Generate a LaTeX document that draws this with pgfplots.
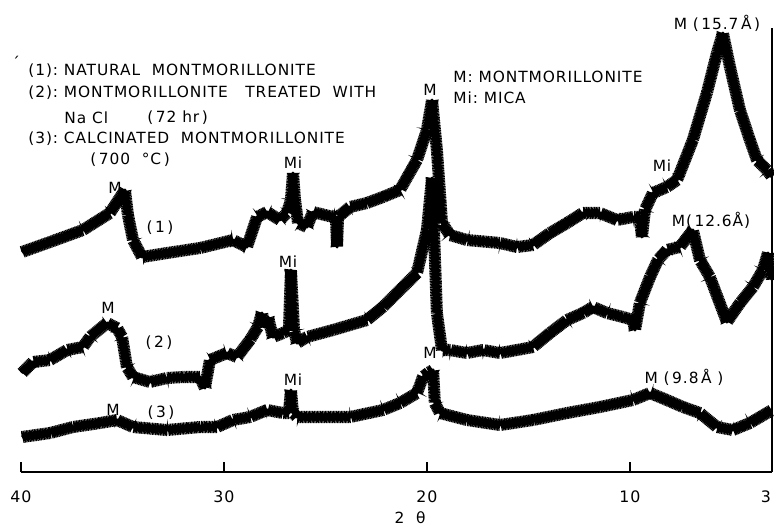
\documentclass[border=0pt]{standalone}
\usepackage{fontspec}
\setmainfont[LetterSpace=6]{DejaVu Sans}
\usepackage{pgfplots}
\pgfplotsset{compat=1.18}
\usetikzlibrary{decorations.pathmorphing}

\pgfplotstableread{
x y
39.95 220
38.57 230
36.95 242
35.62 259
34.88 282
34.73 257
34.48 232
34.04 215
32.81 219
31.18 224
29.56 232
28.87 225
28.37 255
27.88 260
27.24 252
26.90 259
26.70 272
26.60 299
26.50 272
26.35 249
25.91 245
25.62 260
24.63 255
24.48 255
24.43 225
24.38 255
23.79 265
22.96 269
22.17 275
21.33 282
20.49 312
20.00 342
19.75 372
19.51 322
19.36 279
19.26 249
18.87 237
18.03 232
16.40 229
15.57 225
14.78 227
13.94 239
13.10 249
12.32 259
11.48 259
10.64 252
9.85 255
9.51 255
9.41 235
9.26 262
8.87 279
8.18 285
7.68 292
7.54 299
6.90 332
6.21 379
5.71 419
5.42 439
5.07 405
4.58 362
4.09 332
3.74 312
3.25 302
3.00 295
}\curveone

\pgfplotstableread{
x y
39.95 99
39.41 110
38.57 112
37.73 122
36.95 125
36.60 135
35.76 149
35.27 144
35.02 135
34.78 105
34.48 95
33.65 90
32.81 94
32.02 95
31.18 95
30.94 84
30.69 112
29.85 119
29.36 115
28.72 132
28.33 145
28.13 159
27.98 145
27.83 155
27.59 135
27.09 139
26.80 142
26.70 202
26.55 142
26.40 129
25.91 135
24.63 142
22.96 152
22.17 165
21.33 182
20.49 199
20.00 242
19.75 294
19.51 159
19.26 122
18.87 122
18.03 119
17.24 122
16.40 119
15.57 122
14.78 125
13.94 139
13.10 152
12.32 159
11.82 165
11.13 159
10.34 155
9.85 152
9.75 142
9.51 169
9.01 195
8.62 212
8.18 222
7.54 225
6.90 242
6.55 212
6.06 195
5.22 150
4.58 169
3.94 185
3.45 202
3.20 219
3.00 192
}\curvetwo

\pgfplotstableread{
x y
39.95 35
38.57 39
37.44 45
36.11 49
35.27 52
34.48 45
32.81 42
31.18 45
30.34 45
29.56 52
28.72 55
27.88 62
27.09 59
26.80 59
26.70 82
26.60 59
26.40 55
25.42 55
23.79 55
22.17 62
21.33 69
20.49 79
20.20 95
19.95 99
19.70 102
19.61 69
19.36 59
18.03 52
16.40 47
14.78 52
13.10 59
11.48 65
9.85 72
9.01 79
8.18 72
7.39 65
6.55 59
5.71 45
4.93 42
4.09 49
3.25 59
3.00 62
}\curvethree

\tikzset{noisy/.style={black, line width=1.5pt, line join=round,
     postaction={draw, black, line width=0.5pt, line join=miter, decorate,
       decoration={zigzag, segment length=0.8pt, amplitude=3pt}}}}

\begin{document}
\begin{tikzpicture}
\useasboundingbox (-10.5pt,-27.5pt) rectangle (376.5pt,236pt);
\begin{axis}[
  scale only axis, width=375.5pt, height=222pt,
  xmin=3, xmax=40, ymin=0, ymax=444, x dir=reverse,
  axis x line*=bottom, axis y line*=right,
  ytick=\empty, xtick={10,20,30,40},
  extra x ticks={3},
  extra x tick style={xticklabel style={xshift=-3pt}},
  tick align=inside, major tick length=5pt,
  axis line style={line width=1.2pt},
  x tick style={line width=0.8pt, black},
  xticklabel style={font=\fontsize{7.9}{9}\selectfont, yshift=-6pt},
  /pgf/number format/assume math mode=true,
  clip=false,
]
\addplot[noisy] table[x=x,y=y] {\curveone};
\addplot[noisy] table[x=x,y=y] {\curvetwo};
\addplot[noisy] table[x=x,y=y] {\curvethree};
\end{axis}
\begin{scope}[shift={(-10.5pt,236pt)}, x=0.5pt, y=-0.5pt,
  every node/.style={font=\fontsize{7.7}{9}\selectfont, inner sep=0pt}]
\node at (16,62) {´};
\node[anchor=west] at (28,71) {(1):\ NATURAL\ \ MONTMORILLONITE};
\node[anchor=west] at (28,93) {(2):\ MONTMORILLONITE\ \ \ TREATED\ \ WITH};
\node[anchor=west] at (64,118) {Na Cl};
\node[anchor=west] at (147,118) {(\,72\ hr\,)};
\node[anchor=west] at (28,139) {(3):\ CALCINATED\ \ MONTMORILLONITE};
\node[anchor=west] at (90,160) {(\,700\ \ °C\,)};
\node[anchor=west] at (453,77) {M:\ MONTMORILLONITE};
\node[anchor=west] at (453,98) {Mi:\ MICA};
\node at (717,23) {M (\,15.7\,Å\,)};
\node at (711,220) {M(\,12.6Å)};
\node at (684,377) {M (\,9.8\,Å\ )};
\node at (662,166) {Mi};
\node at (430,90) {M};
\node at (115,188) {M};
\node at (160,228) {(\,1\,)};
\node at (293,163) {Mi};
\node at (288,262) {Mi};
\node at (108,308) {M};
\node at (159,343) {(\,2\,)};
\node at (293,380) {Mi};
\node at (113,410) {M};
\node at (161,413) {(\,3\,)};
\node at (430,353) {M};
\node at (410,518) {2\ \ θ};
\end{scope}
\end{tikzpicture}
\end{document}
